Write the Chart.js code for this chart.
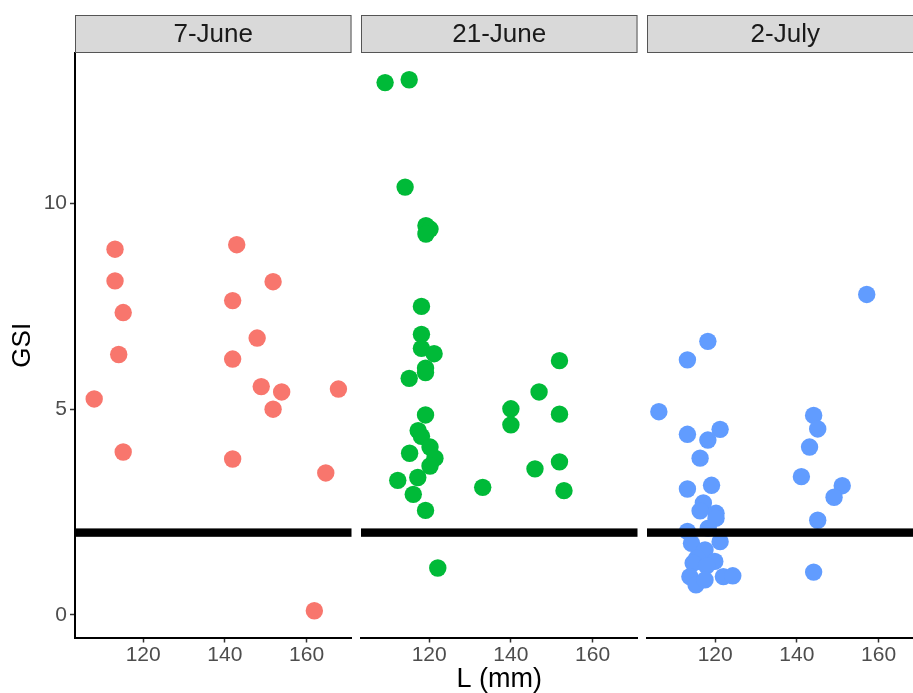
<!DOCTYPE html>
<html>
<head>
<meta charset="utf-8">
<script src="https://cdn.jsdelivr.net/npm/chart.js@4/dist/chart.umd.min.js"></script>
<style>
  html, body { margin: 0; padding: 0; background: #ffffff; overflow: hidden; }
  #wrap { position: relative; width: 913px; height: 693px; overflow: hidden; }
  canvas { position: absolute; top: 0; }
</style>
</head>
<body>
<div id="wrap">
  <canvas id="p1" width="356" height="693" style="left:0px"></canvas>
  <canvas id="p2" width="286" height="693" style="left:356px"></canvas>
  <canvas id="p3" width="286" height="693" style="left:642px"></canvas>
</div>
<script>
// Sampling dates (facet strips)
const dates = ['7-June', '21-June', '2-July'];

// Body length L (mm) and gonadosomatic index per sampling date
const lengthJune7 = [113.1, 142.9, 113.1, 151.8, 141.9, 115.1, 147.9, 114.0, 141.9, 108.0, 148.9, 167.8, 153.9, 151.8, 115.1, 141.9, 164.7, 161.9];
const gsiJune7    = [8.89, 9.00, 8.12, 8.10, 7.64, 7.35, 6.73, 6.33, 6.22, 5.25, 5.55, 5.49, 5.42, 5.00, 3.96, 3.79, 3.45, 0.10];

const lengthJune21 = [109.2, 115.1, 114.1, 119.2, 120.2, 119.2, 118.1, 118.1, 118.1, 121.2, 119.1, 119.1, 115.1, 151.9, 146.9, 140.0, 140.0, 151.9, 119.1, 117.3, 118.1, 120.2, 115.2, 121.4, 120.2, 112.3, 117.2, 116.1, 119.1, 133.1, 145.9, 151.9, 153.0, 122.1];
const gsiJune21    = [12.94, 13.01, 10.40, 9.46, 9.38, 9.26, 7.50, 6.82, 6.48, 6.35, 6.00, 5.89, 5.75, 6.18, 5.42, 5.01, 4.62, 4.88, 4.86, 4.48, 4.34, 4.08, 3.93, 3.81, 3.62, 3.27, 3.34, 2.93, 2.54, 3.10, 3.55, 3.72, 3.02, 1.14];

const lengthJuly2 = [157.1, 118.2, 113.2, 106.2, 113.2, 121.2, 118.2, 116.3, 144.1, 145.1, 143.1, 141.1, 151.1, 149.1, 145.1, 144.1, 113.2, 119.1, 117.1, 116.3, 120.2, 120.2, 113.2, 118.3, 121.2, 114.2, 117.5, 115.5, 119.9, 114.6, 117.9, 113.8, 122.0, 124.3, 115.3, 117.5];
const gsiJuly2    = [7.79, 6.65, 6.20, 4.94, 4.39, 4.51, 4.25, 3.81, 4.85, 4.52, 4.08, 3.36, 3.14, 2.86, 2.30, 1.04, 3.06, 3.15, 2.72, 2.53, 2.47, 2.35, 2.03, 2.11, 1.78, 1.74, 1.58, 1.38, 1.30, 1.26, 1.19, 0.93, 0.93, 0.95, 0.73, 0.85];

// Reference GSI level drawn as a horizontal line
const gsiThreshold = 2;

// Axis ticks
const xTicks = [120, 140, 160];
const yTicks = [0, 5, 10];

const colours = ['#F8766D', '#00BA38', '#619CFF'];
const FONT = 'Arial, "Liberation Sans", sans-serif';

// Grey facet strip above the plotting area
const stripPlugin = {
  id: 'facetStrip',
  afterDraw(chart, args, opts) {
    const { ctx, chartArea } = chart;
    const h = 38;
    const top = chartArea.top - h;
    ctx.save();
    ctx.fillStyle = '#D9D9D9';
    ctx.fillRect(chartArea.left, top, chartArea.right - chartArea.left, h);
    ctx.strokeStyle = '#555555';
    ctx.lineWidth = 1;
    ctx.strokeRect(chartArea.left + 0.5, top + 0.5, chartArea.right - chartArea.left - 1, h - 1);
    ctx.fillStyle = '#1A1A1A';
    ctx.font = '26px ' + FONT;
    ctx.textAlign = 'center';
    ctx.textBaseline = 'middle';
    ctx.fillText(opts.label, (chartArea.left + chartArea.right) / 2, top + h / 2 + 1);
    ctx.restore();
  }
};

// Thick horizontal reference line through the panel
const hlinePlugin = {
  id: 'thresholdLine',
  afterDatasetsDraw(chart) {
    const { ctx, chartArea, scales } = chart;
    const y = scales.y.getPixelForValue(gsiThreshold);
    ctx.save();
    ctx.fillStyle = '#000000';
    ctx.fillRect(chartArea.left, y - 4.2, chartArea.right - chartArea.left, 8.4);
    ctx.restore();
  }
};

function makePanel(id, idx, lengths, gsi, showY, showXTitle, padLeft) {
  const points = lengths.map((l, i) => ({ x: l, y: gsi[i] }));
  return new Chart(document.getElementById(id), {
    type: 'scatter',
    data: {
      datasets: [{
        data: points,
        backgroundColor: colours[idx],
        borderWidth: 0,
        pointRadius: 8.7,
        pointHoverRadius: 8.7,
        clip: 10
      }]
    },
    plugins: [stripPlugin, hlinePlugin],
    options: {
      responsive: false,
      animation: false,
      devicePixelRatio: 1,
      layout: { autoPadding: false, padding: { left: padLeft, right: 4.5, top: 53, bottom: 0 } },
      plugins: {
        legend: { display: false },
        tooltip: { enabled: false },
        facetStrip: { label: dates[idx] }
      },
      scales: {
        x: {
          type: 'linear',
          min: 103.3,
          max: 171.0,
          afterBuildTicks(scale) { scale.ticks = xTicks.map(v => ({ value: v })); },
          afterFit(scale) {
            scale.height = 55.5;
            scale.paddingLeft = 0;
            scale.paddingRight = 0;
          },
          border: { display: true, color: '#000000', width: 2 },
          grid: { drawOnChartArea: false, drawTicks: true, tickLength: 5, tickColor: '#333333', tickWidth: 1.5 },
          ticks: { color: '#4D4D4D', font: { size: 21, family: FONT }, padding: 0, maxRotation: 0 },
          title: {
            display: showXTitle,
            text: 'L (mm)',
            color: '#000000',
            font: { size: 27, family: FONT },
            padding: { top: 0, bottom: -3 }
          }
        },
        y: {
          type: 'linear',
          display: showY,
          min: -0.55,
          max: 13.66,
          afterBuildTicks(scale) { scale.ticks = yTicks.map(v => ({ value: v })); },
          afterFit(scale) {
            if (showY) scale.width = 75;
            scale.paddingTop = 0;
            scale.paddingBottom = 0;
          },
          border: { display: true, color: '#000000', width: 2 },
          grid: { drawOnChartArea: false, drawTicks: true, tickLength: 5, tickColor: '#333333', tickWidth: 1.5 },
          ticks: { color: '#4D4D4D', font: { size: 21, family: FONT }, padding: 3 },
          title: {
            display: true,
            text: 'GSI',
            color: '#000000',
            font: { size: 26, family: FONT },
            padding: { top: 7, bottom: 0 }
          }
        }
      }
    }
  });
}

makePanel('p1', 0, lengthJune7, gsiJune7, true, false, 0);
makePanel('p2', 1, lengthJune21, gsiJune21, false, true, 5);
makePanel('p3', 2, lengthJuly2, gsiJuly2, false, false, 5);
</script>
</body>
</html>
